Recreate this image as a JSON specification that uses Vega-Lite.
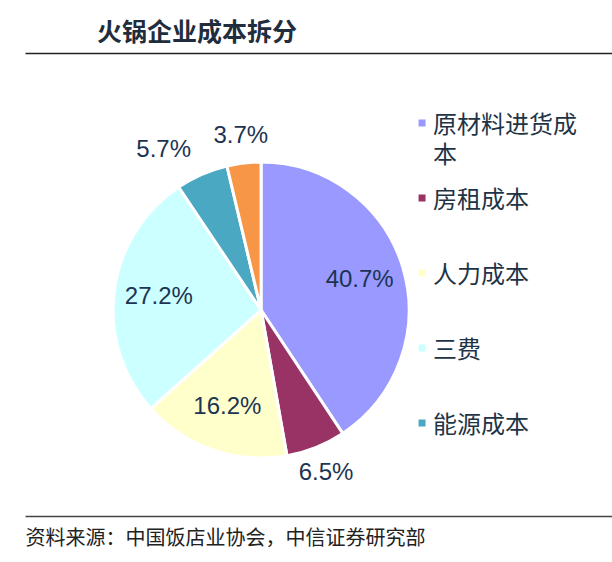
{
  "$schema": "https://vega.github.io/schema/vega-lite/v6.json",
  "width": 587,
  "height": 296,
  "autosize": {"type": "none"},
  "padding": {"left": 25, "top": 162, "right": 0, "bottom": 104},
  "background": "white",
  "config": {"view": {"stroke": null}, "font": "Noto Sans CJK SC"},
  "title": {
    "text": "火锅企业成本拆分",
    "anchor": "start",
    "dx": 72,
    "offset": 7,
    "font": "Noto Sans CJK SC",
    "fontSize": 25,
    "fontWeight": "bold",
    "color": "#1f2d3d"
  },
  "data": {
    "values": [
      {"成本": "原材料进货成本", "占比": 0.407, "序号": 1},
      {"成本": "房租成本", "占比": 0.065, "序号": 2},
      {"成本": "人力成本", "占比": 0.162, "序号": 3},
      {"成本": "三费", "占比": 0.272, "序号": 4},
      {"成本": "能源成本", "占比": 0.057, "序号": 5},
      {"成本": "其他", "占比": 0.037, "序号": 6}
    ]
  },
  "resolve": {"axis": {"x": "independent"}},
  "layer": [
    {
      "mark": {"type": "arc", "stroke": "white", "strokeWidth": 3},
      "encoding": {
        "x": {
          "datum": "饼图",
          "type": "nominal",
          "scale": {"type": "band", "domain": ["饼图", "图例"], "paddingInner": 0, "paddingOuter": 0.823, "align": 0.587},
          "axis": null
        },
        "theta": {"field": "占比", "type": "quantitative", "stack": true},
        "order": {"field": "序号", "type": "quantitative"},
        "color": {
          "field": "成本",
          "type": "nominal",
          "scale": {
            "domain": ["原材料进货成本", "房租成本", "人力成本", "三费", "能源成本", "其他"],
            "range": ["#9999FF", "#993366", "#FFFFCC", "#CCFFFF", "#4BA8C2", "#F79646"]
          },
          "legend": null
        }
      }
    },
    {
      "mark": {"type": "text", "radius": 103, "font": "Liberation Sans", "fontSize": 24, "color": "#1c3452"},
      "encoding": {
        "x": {"datum": "饼图", "type": "nominal", "axis": null},
        "theta": {"field": "占比", "type": "quantitative", "stack": true},
        "order": {"field": "序号", "type": "quantitative"},
        "detail": {"field": "成本", "type": "nominal"},
        "text": {
          "condition": {"test": "datum['占比'] > 0.1", "field": "占比", "type": "quantitative", "format": ".1%"},
          "value": ""
        }
      }
    },
    {
      "mark": {"type": "text", "radius": 175, "font": "Liberation Sans", "fontSize": 24, "color": "#1c3452"},
      "encoding": {
        "x": {"datum": "饼图", "type": "nominal", "axis": null},
        "theta": {"field": "占比", "type": "quantitative", "stack": true},
        "order": {"field": "序号", "type": "quantitative"},
        "detail": {"field": "成本", "type": "nominal"},
        "text": {
          "condition": {"test": "datum['占比'] <= 0.1 && datum['成本'] != '能源成本'", "field": "占比", "type": "quantitative", "format": ".1%"},
          "value": ""
        }
      }
    },
    {
      "mark": {"type": "text", "radius": 175, "align": "right", "font": "Liberation Sans", "fontSize": 24, "color": "#1c3452"},
      "encoding": {
        "x": {"datum": "饼图", "type": "nominal", "axis": null},
        "theta": {"field": "占比", "type": "quantitative", "stack": true},
        "order": {"field": "序号", "type": "quantitative"},
        "detail": {"field": "成本", "type": "nominal"},
        "text": {
          "condition": {"test": "datum['成本'] == '能源成本'", "field": "占比", "type": "quantitative", "format": ".1%"},
          "value": ""
        }
      }
    },
    {
      "transform": [{"filter": "datum['成本'] != '其他'"}],
      "mark": {"type": "square", "size": 49, "opacity": 1},
      "encoding": {
        "x": {
          "datum": "图例",
          "type": "nominal",
          "axis": {
            "orient": "top",
            "offset": 109,
            "labels": false,
            "ticks": false,
            "grid": false,
            "title": null,
            "domainColor": "#222222",
            "domainWidth": 1.5
          }
        },
        "y": {
          "field": "成本",
          "type": "nominal",
          "scale": {
            "type": "point",
            "domain": ["原材料进货成本", "房租成本", "人力成本", "三费", "能源成本"],
            "range": [-39, 261],
            "padding": 0
          },
          "axis": null
        },
        "color": {"field": "成本", "type": "nominal", "legend": null}
      }
    },
    {
      "transform": [{"filter": "datum['成本'] != '其他'"}],
      "mark": {
        "type": "text",
        "align": "left",
        "baseline": "top",
        "dx": 11,
        "dy": -9,
        "fontSize": 24,
        "lineHeight": 30,
        "font": "Noto Sans CJK SC",
        "color": "#1e3446"
      },
      "encoding": {
        "x": {
          "datum": "图例",
          "type": "nominal",
          "axis": {
            "orient": "bottom",
            "offset": 58,
            "labels": false,
            "ticks": false,
            "grid": false,
            "title": "资料来源：中国饭店业协会，中信证券研究部",
            "titleAnchor": "start",
            "titleAlign": "left",
            "titleFont": "Noto Sans CJK SC",
            "titleFontSize": 20,
            "titleFontWeight": "normal",
            "titleColor": "#222222",
            "titlePadding": 12,
            "domainColor": "#444444",
            "domainWidth": 1.5
          }
        },
        "y": {"field": "成本", "type": "nominal", "axis": null},
        "text": {
          "condition": {"test": "datum['成本'] == '原材料进货成本'", "value": ["原材料进货成", "本"]},
          "field": "成本",
          "type": "nominal"
        }
      }
    }
  ]
}
